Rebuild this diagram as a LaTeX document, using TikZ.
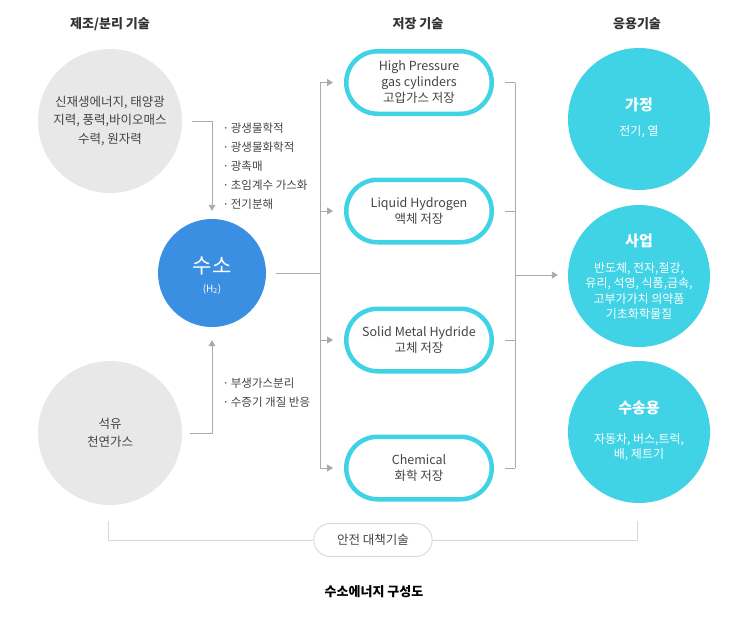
\documentclass[tikz,border=0pt]{standalone}
\usepackage{fontspec}
\setmainfont{Noto Sans CJK KR}
\usetikzlibrary{arrows.meta,shapes.misc}
\definecolor{cyanc}{HTML}{40D3E6}
\definecolor{bluec}{HTML}{3B8FE3}
\definecolor{grayc}{HTML}{E8E8E8}
\definecolor{txt}{HTML}{444444}
\definecolor{ttl}{HTML}{333333}
\definecolor{ln}{HTML}{AAAAAA}
\definecolor{sfln}{HTML}{D8D8D8}
\begin{document}
\begin{tikzpicture}[x=1pt,y=-1pt,
  title/.style={font=\fontsize{13}{15}\selectfont\bfseries, text=ttl},
  srccirc/.style={circle, fill=grayc, minimum size=144pt, inner sep=0pt, align=center, text=txt, font=\fontsize{12.5}{18.5}\selectfont},
  appcirc/.style={circle, fill=cyanc, minimum size=142pt, inner sep=0pt},
  pill/.style={rounded rectangle, draw=cyanc, line width=4.5pt, fill=white, minimum width=145.5pt, minimum height=62.5pt, inner sep=0pt, align=center, text=txt, font=\fontsize{12.5}{16}\selectfont},
  bul/.style={anchor=west, text=txt, font=\fontsize{11.5}{14}\selectfont},
  apph/.style={text=white, font=\fontsize{15}{18}\selectfont\bfseries},
  appt/.style={text=white, align=center, font=\fontsize{12}{15.5}\selectfont},
  conn/.style={draw=ln, line width=0.9pt},
  arr/.style={conn, -{Triangle[width=7pt,length=6pt]}}
]
\useasboundingbox (0,0) rectangle (754,619);

% titles
\node[title] (t1) at (110,24) {제조/분리 기술};
\node[title] (t2) at (418,24) {저장 기술};
\node[title] (t3) at (637,24) {응용기술};

% source circles
\node[srccirc] (src1) at (110,121) {신재생에너지, 태양광\\지력, 풍력,바이오매스\\수력, 원자력};
\node[srccirc] (src2) at (110,433) {석유\\천연가스};

% hydrogen
\node[circle, fill=bluec, minimum size=108pt, inner sep=0pt] (h2) at (212,273) {};
\node[text=white, font=\fontsize{21}{24}\selectfont] (h2t) at (212,266) {수소};
\node[text=white, font=\fontsize{10}{12}\selectfont] (h2s) at (212,289) {(H\textsubscript{2})};

% bullets
\node[bul] (b1) at (219,128) {·\,광생물학적};
\node[bul] (b2) at (219,147) {·\,광생물화학적};
\node[bul] (b3) at (219,166) {·\,광촉매};
\node[bul] (b4) at (219,185) {·\,초임계수 가스화};
\node[bul] (b5) at (219,204) {·\,전기분해};
\node[bul] (b6) at (219,383) {·\,부생가스분리};
\node[bul] (b7) at (219,402) {·\,수증기 개질 반응};

% storage pills
\node[pill] (s1) at (419,82.5) {High Pressure\\gas cylinders\\고압가스 저장};
\node[pill] (s2) at (419,211) {Liquid Hydrogen\\액체 저장};
\node[pill] (s3) at (419,340) {Solid Metal Hydride\\고체 저장};
\node[pill] (s4) at (419,468) {Chemical\\화학 저장};

% application circles
\node[appcirc] (a1) at (639,119) {};
\node[apph] (a1h) at (639,105) {가정};
\node[appt] (a1t) at (639,132) {전기, 열};
\node[appcirc] (a2) at (639,276) {};
\node[apph] (a2h) at (639,241) {사업};
\node[appt] (a2t) at (639,291) {반도체, 전자,철강,\\유리, 석영, 식품,금속,\\고부가가치 의약품\\기초화학물질};
\node[appcirc] (a3) at (639,432) {};
\node[apph] (a3h) at (639,408) {수송용};
\node[appt] (a3t) at (639,447) {자동차, 버스,트럭,\\배, 제트기};

% connectors: sources to hydrogen
\draw[arr] ([xshift=10pt]src1.east) -| ([yshift=8pt]h2.north);
\draw[arr] ([xshift=8pt]src2.east) -| ([yshift=-13pt]h2.south);

% hydrogen to storage
\coordinate (vtop) at (320,82.5);
\coordinate (vbot) at (320,468);
\draw[conn] ([xshift=10pt]h2.east) -- (vtop |- h2.east);
\draw[conn] (vtop) -- (vbot);
\foreach \s in {s1,s2,s3,s4}{
  \draw[arr] (vtop |- \s.west) -- ([xshift=-11pt]\s.west);
}

% storage to application
\coordinate (rtop) at (515,82.5);
\coordinate (rbot) at (515,468);
\draw[conn] (rtop) -- (rbot);
\foreach \s in {s1,s2,s3,s4}{
  \draw[conn] ([xshift=11pt]\s.east) -- (rtop |- \s.east);
}
\coordinate (rmid) at (515,275);
\draw[arr] (rmid) -- ([xshift=-10pt]a2.west |- rmid);

% safety bracket
\node[rounded rectangle, draw=sfln, line width=0.9pt, fill=white, minimum width=125pt, minimum height=33pt, text=txt, font=\fontsize{12.5}{15}\selectfont] (safe) at (373,540) {안전 대책기술};
\coordinate (bl) at (108,521);
\coordinate (br) at (637,521);
\draw[draw=sfln, line width=0.9pt] (bl) |- (safe.west);
\draw[draw=sfln, line width=0.9pt] (br) |- (safe.east);

% caption
\node[font=\fontsize{13}{15}\selectfont\bfseries, text=black] (cap) at (374,592) {수소에너지 구성도};
\end{tikzpicture}
\end{document}
